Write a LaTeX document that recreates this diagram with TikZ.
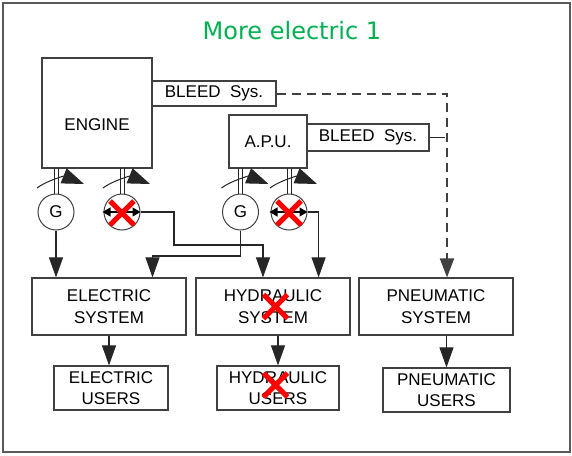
\documentclass[tikz,border=0pt]{standalone}
\usepackage{fontspec}
\setmainfont{Liberation Sans}
\newfontfamily\titlefont{DejaVu Sans}
\usetikzlibrary{arrows.meta}
\definecolor{slidegreen}{RGB}{0,176,80}
\definecolor{linegray}{RGB}{64,64,64}
\tikzset{
	more electric/.style={
		x=1pt,y=-1pt, % pixel grid, y pointing down
		font=\fontsize{17}{21.5}\selectfont,
		line width=1pt,
		draw=linegray,
		supply/.style={
			draw=black!85,
			line width=1.1pt,
			-{Triangle[length=20pt,width=14pt]}
		},
		bleed line/.style={
			supply,
			draw=black!75,
			line width=2pt,
			dash pattern=on 9pt off 6pt,
			-{Triangle[length=19pt,width=14pt]}
		}
	},
	unit box/.style={
		rectangle,
		draw=linegray,
		line width=1.2pt,
		inner sep=0pt,
		align=center
	},
	machine/.style={
		circle,
		draw=linegray,
		line width=1pt,
		minimum size=36pt,
		inner sep=0pt
	},
	shaft/.style={
		draw=black!85,
		line width=1pt
	},
	rotation/.style={
		draw=black!85,
		line width=1pt,
		-{Triangle[length=22pt,width=16pt]}
	},
	failed/.style={
		draw=red,
		line width=5pt
	}
}

\begin{document}
\begin{tikzpicture}[more electric]
		\useasboundingbox (0,0) rectangle (572,455);
		\draw[black!65,line width=1.5pt] (3,3) rectangle (570,452);
		\node[font=\titlefont\fontsize{24}{28}\selectfont,text=slidegreen] (title) at (292,31) {More electric 1};
		% power sources
		\node[unit box,minimum width=110pt,minimum height=110pt,label={[yshift=-12pt]center:ENGINE}] (engine) at (97,113) {};
		\node[unit box,minimum width=124pt,minimum height=25pt] (engine bleed) at (214,93.5) {BLEED\ \ Sys.};
		\node[unit box,minimum width=78pt,minimum height=53pt] (apu) at (268,141.5) {A.P.U.};
		\node[unit box,minimum width=122pt,minimum height=27pt] (apu bleed) at (368,137.5) {BLEED\ \ Sys.};
		% generators and pumps
		\node[machine] (gen1) at (56,212) {G};
		\node[machine] (pump1) at (122,212) {};
		\node[machine] (gen2) at (240.5,212) {G};
		\node[machine] (pump2) at (289,212) {};
		% systems
		\node[unit box,minimum width=154pt,minimum height=57pt] (elec sys) at (109,306.5) {ELECTRIC\\SYSTEM};
		\node[unit box,minimum width=154pt,minimum height=57pt] (hyd sys) at (273,306.5) {HYDRAULIC\\SYSTEM};
		\node[unit box,minimum width=154pt,minimum height=57pt] (pneu sys) at (436,306.5) {PNEUMATIC\\SYSTEM};
		\node[unit box,minimum width=114pt,minimum height=44pt] (elec users) at (111,388) {ELECTRIC\\USERS};
		\node[unit box,minimum width=122pt,minimum height=44pt] (hyd users) at (278,388) {HYDRAULIC\\USERS};
		\node[unit box,minimum width=127pt,minimum height=44pt] (pneu users) at (446.5,390) {PNEUMATIC\\USERS};
		% shafts and turning arrows
		\foreach \m in {gen1,pump1,gen2,pump2} {
			\draw[shaft] ([xshift=-2pt]\m.north) -- ++(0,-26);
			\draw[shaft] ([xshift=2pt]\m.north) -- ++(0,-26);
			\draw[rotation,shift={(\m.center)}] (-19,-24) .. controls (-10,-31) and (8,-36) .. (28,-28);
		}
		\foreach \m in {pump1,pump2}
			\draw[black,line width=1.3pt,{Triangle[length=8pt,width=9pt]}-{Triangle[length=8pt,width=9pt]}] ([xshift=-1pt]\m.west) -- (\m.east);
		% supplies
		\coordinate (gen2 turn) at (152.5,256);
		\coordinate (pump1 turn) at (174,245);
		\draw[supply] (gen1.south) -- (gen1.south |- elec sys.north);
		\draw[supply] (gen2.south) |- (gen2 turn) -- (gen2 turn |- elec sys.north);
		\draw[supply] (pump1.east) -| (pump1 turn) -| ([xshift=-10pt]hyd sys.north);
		\draw[supply] (pump2.east) -| ([xshift=45.6pt]hyd sys.north);
		\draw[bleed line] (engine bleed.east) -| ([xshift=11pt]pneu sys.north) coordinate (bleed drop);
		\draw[draw=black!85,line width=1.2pt] (apu bleed.east) -- ([xshift=-2pt]apu bleed.east -| bleed drop);
		\draw[supply] (elec sys.south) -- (elec sys.south |- elec users.north);
		\draw[supply] (hyd sys.south -| hyd users.north) -- (hyd users.north);
		\draw[supply] (pneu sys.south -| pneu users.north) -- (pneu users.north);
		% failures
		\foreach \c/\dx/\dy in {pump1/0/1,pump2/0/1,hyd sys/2.5/0,hyd users/-2.5/-3}
			\draw[failed,shift={(\c.center)}] (\dx-12,\dy-12) -- (\dx+12,\dy+12) (\dx-12,\dy+12) -- (\dx+12,\dy-12);
	\end{tikzpicture}
\end{document}
